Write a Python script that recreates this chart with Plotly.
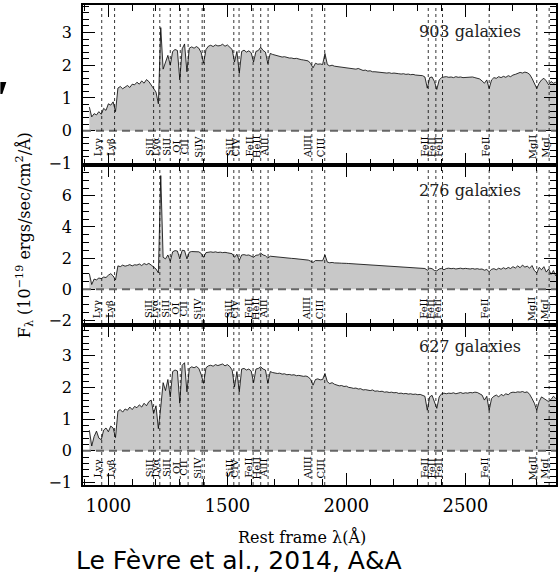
import plotly.graph_objects as go
from plotly.subplots import make_subplots

# ---------------- data ----------------
wave = list(range(920, 2881, 10))  # rest-frame wavelength grid (Å)

flux_903 = [
    0.72, 0.42, 0.52, 0.48, 0.58, 0.50, 0.68, 0.62, 0.82, 0.78,
    0.88, 0.58, 1.30, 1.35, 1.28, 1.34, 1.38, 1.32, 1.42, 1.40,
    1.48, 1.42, 1.52, 1.45, 1.56, 1.50, 1.40, 1.30, 1.18, 0.82,
    3.15, 1.88, 2.10, 2.30, 2.00, 2.42, 2.48, 2.45, 1.55, 2.50,
    2.65, 1.80, 2.52, 2.56, 2.52, 2.57, 2.52, 2.38, 2.06, 2.48,
    2.58, 2.61, 2.57, 2.62, 2.59, 2.60, 2.64, 2.58, 2.62, 2.56,
    2.48, 2.10, 2.42, 1.75, 2.42, 2.46, 2.40, 2.44, 2.38, 2.10,
    2.42, 2.45, 2.55, 2.45, 2.40, 2.05, 2.36, 2.33, 2.31, 2.29,
    2.27, 2.25, 2.26, 2.23, 2.22, 2.22, 2.20, 2.21, 2.18, 2.17,
    2.16, 2.15, 2.13, 2.05, 1.92, 2.06, 2.03, 2.04, 2.02, 2.36,
    2.02, 1.98, 2.00, 1.97, 1.96, 1.95, 1.95, 1.93, 1.92, 1.92,
    1.90, 1.89, 1.88, 1.90, 1.86, 1.84, 1.85, 1.82, 1.83, 1.80,
    1.80, 1.79, 1.80, 1.77, 1.78, 1.76, 1.77, 1.75, 1.76, 1.74,
    1.74, 1.73, 1.74, 1.72, 1.73, 1.71, 1.72, 1.70, 1.70, 1.68,
    1.68, 1.64, 1.30, 1.62, 1.64, 1.50, 1.26, 1.55, 1.62, 1.64,
    1.65, 1.63, 1.64, 1.62, 1.65, 1.63, 1.64, 1.62, 1.63, 1.64,
    1.63, 1.64, 1.62, 1.60, 1.58, 1.52, 1.45, 1.55, 1.29, 1.55,
    1.62, 1.60, 1.65, 1.62, 1.66, 1.63, 1.68, 1.65, 1.70, 1.72,
    1.75, 1.78, 1.76, 1.79, 1.77, 1.72, 1.60, 1.45, 1.29, 1.45,
    1.55, 1.60, 1.52, 1.40, 1.50, 1.45, 1.48,
]

flux_276 = [
    1.00, 0.30, 0.65, 0.60, 0.72, 0.68, 0.78, 0.75, 0.90, 1.00,
    0.85, 0.60, 1.50, 1.45, 1.55, 1.48, 1.52, 1.58, 1.50, 1.57,
    1.55, 1.62, 1.52, 1.65, 1.58, 1.66, 1.55, 1.40, 1.30, 1.05,
    7.30, 2.05, 1.95, 2.20, 1.80, 2.40, 2.48, 2.45, 1.95, 2.50,
    2.48, 1.95, 2.38, 2.42, 2.40, 2.38, 2.40, 2.30, 2.05, 2.35,
    2.38, 2.40, 2.37, 2.40, 2.36, 2.38, 2.35, 2.37, 2.34, 2.30,
    2.28, 2.05, 2.25, 1.85, 2.20, 2.22, 2.18, 2.20, 2.15, 2.05,
    2.18, 2.20, 2.32, 2.20, 2.15, 2.00, 2.12, 2.10, 2.08, 2.07,
    2.05, 2.04, 2.03, 2.01, 2.00, 1.98, 1.97, 1.95, 1.93, 1.91,
    1.89, 1.88, 1.87, 1.80, 1.72, 1.84, 1.83, 1.82, 1.83, 2.20,
    1.74, 1.70, 1.72, 1.69, 1.70, 1.68, 1.67, 1.68, 1.66, 1.65,
    1.64, 1.63, 1.62, 1.61, 1.60, 1.58, 1.57, 1.58, 1.56, 1.55,
    1.55, 1.53, 1.52, 1.51, 1.50, 1.49, 1.48, 1.47, 1.46, 1.45,
    1.44, 1.43, 1.42, 1.42, 1.40, 1.39, 1.40, 1.38, 1.37, 1.36,
    1.37, 1.33, 1.22, 1.35, 1.32, 1.20, 1.18, 1.30, 1.34, 1.25,
    1.33, 1.35, 1.32, 1.34, 1.30, 1.33, 1.35, 1.31, 1.34, 1.32,
    1.30, 1.33, 1.29, 1.32, 1.28, 1.30, 1.22, 1.27, 1.12, 1.28,
    1.32, 1.25, 1.35, 1.28, 1.38, 1.30, 1.40, 1.33, 1.45, 1.36,
    1.50, 1.38, 1.55, 1.42, 1.48, 1.35, 1.52, 1.20, 1.05, 1.40,
    1.25, 1.45, 1.10, 1.30, 0.95, 1.20, 0.85,
]

flux_627 = [
    0.65, 0.15, 0.45, 0.62, 0.40, 0.35, 0.65, 0.72, 0.60, 0.78,
    0.72, 0.42, 1.25, 1.30, 1.22, 1.32, 1.28, 1.38, 1.30, 1.40,
    1.36, 1.45, 1.38, 1.50, 1.42, 1.55, 1.60, 1.18, 1.42, 0.70,
    1.38, 2.15, 1.90, 2.25, 1.70, 2.50, 2.55, 2.52, 1.50, 2.70,
    2.78, 1.86, 2.60, 2.65, 2.62, 2.66, 2.60, 2.40, 2.13, 2.62,
    2.68, 2.70, 2.67, 2.72, 2.69, 2.71, 2.74, 2.68, 2.72, 2.66,
    2.55, 2.02, 2.50, 1.86, 2.58, 2.60, 2.55, 2.58, 2.52, 2.15,
    2.58, 2.60, 2.65, 2.58, 2.55, 2.13, 2.50, 2.47, 2.45, 2.44,
    2.45, 2.42, 2.43, 2.40, 2.41, 2.39, 2.40, 2.37, 2.38, 2.36,
    2.35, 2.36, 2.33, 2.25, 2.07, 2.25, 2.27, 2.24, 2.25, 2.44,
    2.18, 2.12, 2.15, 2.10, 2.08, 2.05, 2.06, 2.03, 2.04, 2.00,
    1.99, 1.97, 1.98, 1.95, 1.96, 1.92, 1.93, 1.91, 1.90, 1.92,
    1.88, 1.89, 1.87, 1.88, 1.85, 1.86, 1.84, 1.85, 1.83, 1.84,
    1.81, 1.82, 1.80, 1.81, 1.79, 1.80, 1.78, 1.79, 1.77, 1.78,
    1.76, 1.72, 1.28, 1.70, 1.75, 1.55, 1.34, 1.70, 1.80, 1.82,
    1.80, 1.82, 1.81, 1.83, 1.80, 1.82, 1.84, 1.81, 1.83, 1.82,
    1.84, 1.83, 1.85, 1.84, 1.80, 1.76, 1.60, 1.72, 1.28, 1.65,
    1.72, 1.76, 1.70, 1.78, 1.74, 1.80, 1.77, 1.83, 1.85, 1.84,
    1.86, 1.85, 1.87, 1.84, 1.86, 1.78, 1.65, 1.50, 1.28, 1.55,
    1.70, 1.65, 1.58, 1.55, 1.62, 1.72, 1.65,
]

panel_counts = ["903 galaxies", "276 galaxies", "627 galaxies"]

line_waves = [972, 1026, 1190, 1216, 1260, 1302, 1335, 1394, 1403, 1527,
              1549, 1608, 1640, 1671, 1855, 1909, 2344, 2376, 2404, 2600,
              2800, 2852]
label_waves = [972, 1026, 1190, 1216, 1260, 1302, 1335, 1394, 1527, 1549,
               1608, 1640, 1671, 1855, 1909, 2344, 2376, 2404, 2600, 2800,
               2852]
label_texts = ["Lyγ", "Lyβ", "SiII", "Lyα", "SiII", "OI", "CII", "SiIV",
               "SiII", "CIV", "FeII", "HeII", "AlII", "AlIII", "CIII",
               "FeII", "FeII", "FeII", "FeII", "MgII", "MgI"]

# ---------------- figure ----------------
spectra = [flux_903, flux_276, flux_627]
y_ranges = [[-1.05, 3.84], [-2.30, 7.98], [-1.08, 3.97]]
y_dticks = [1, 2, 1]
y_minor = [0.2, 0.5, 0.2]
label_y = [-0.50, -1.27, -0.55]
count_y = [0.9458, 0.6125, 0.2885]
domains = [[2 / 3, 1.0], [1 / 3, 2 / 3], [0.0, 1 / 3]]

SERIF = "DejaVu Serif"

fig = make_subplots(rows=3, cols=1, shared_xaxes=True, vertical_spacing=0)

for i, flux in enumerate(spectra):
    r = i + 1
    fig.add_trace(go.Scatter(
        x=wave, y=flux, mode="lines", fill="tozeroy",
        fillcolor="#c8c8c8", line=dict(color="black", width=0.8),
        showlegend=False, hoverinfo="skip"), row=r, col=1)
    fig.add_hline(y=0, line=dict(color="#666666", width=2, dash="8px,5px"),
                  row=r, col=1, layer="above")

    yref = "y" if r == 1 else f"y{r}"
    xref = "x" if r == 1 else f"x{r}"
    for w, t in zip(label_waves, label_texts):
        fig.add_annotation(x=w, y=label_y[i], xref=xref, yref=yref,
                           text=t, textangle=-90, showarrow=False,
                           xshift=-4.5, xanchor="center", yanchor="middle",
                           font=dict(family=SERIF, size=10, color="black"))
    fig.add_annotation(x=0.818, y=count_y[i], xref="paper", yref="paper",
                       text=panel_counts[i], showarrow=False,
                       xanchor="center", yanchor="middle",
                       font=dict(family=SERIF, size=16, color="#222222"))

    fig.update_yaxes(
        row=r, col=1, domain=domains[i], range=y_ranges[i],
        tick0=0, dtick=y_dticks[i], ticks="inside", ticklen=12,
        tickwidth=1.2, tickcolor="black", showline=True, linecolor="black",
        linewidth=1.5, mirror="allticks", showgrid=False, zeroline=False,
        ticklabelstandoff=6,
        tickfont=dict(family=SERIF, size=16, color="black"),
        minor=dict(dtick=y_minor[i], tick0=0, ticks="inside", ticklen=6,
                   tickwidth=1, tickcolor="black"))
    fig.update_xaxes(
        row=r, col=1, range=[893.3, 2880.8], tick0=1000, dtick=500,
        ticks="inside", ticklen=12, tickwidth=1.2, tickcolor="black",
        showline=True, linecolor="black", linewidth=1.5, mirror="allticks",
        showgrid=False, zeroline=False, ticklabelstandoff=4,
        tickfont=dict(family=SERIF, size=18, color="black"),
        minor=dict(dtick=100, tick0=1000, ticks="inside", ticklen=6,
                   tickwidth=1, tickcolor="black"))

# dotted vertical line markers through all panels
for w in line_waves:
    fig.add_shape(type="line", xref="x", yref="paper", x0=w, x1=w, y0=0, y1=1,
                  line=dict(color="black", width=0.8, dash="dot"), layer="above")

# axis titles and credit
fig.add_annotation(x=-0.122, y=0.521, xref="paper", yref="paper",
                   text="F<sub>λ</sub> (10<sup>−19</sup> ergs/sec/cm<sup>2</sup>/Å)",
                   textangle=-90, showarrow=False, xanchor="center", yanchor="middle",
                   font=dict(family=SERIF, size=16, color="black"))
fig.add_annotation(x=0.463, y=-0.108, xref="paper", yref="paper",
                   text="Rest frame λ(Å)", showarrow=False,
                   xanchor="center", yanchor="middle",
                   font=dict(family=SERIF, size=16, color="black"))
fig.add_annotation(x=0.3305, y=-0.158, xref="paper", yref="paper",
                   text="Le Fèvre et al., 2014, A&A", showarrow=False,
                   xanchor="center", yanchor="middle",
                   font=dict(family="DejaVu Sans", size=25, color="black"))

# small cropped dark glyph at the top-left edge of the source image
fig.add_shape(type="path", xref="paper", yref="paper",
              path="M -0.1747 0.8396 L -0.1621 0.8396 L -0.1705 0.8146 L -0.1747 0.8146 Z",
              fillcolor="black", line=dict(width=0))

fig.update_layout(width=558, height=576, margin=dict(l=83, r=0, t=5, b=91),
                  paper_bgcolor="white", plot_bgcolor="white", showlegend=False)

fig.write_html("out.html",
               config={"displayModeBar": False},
               post_script="document.body.style.margin='0';"
                           "document.body.style.overflow='hidden';")
